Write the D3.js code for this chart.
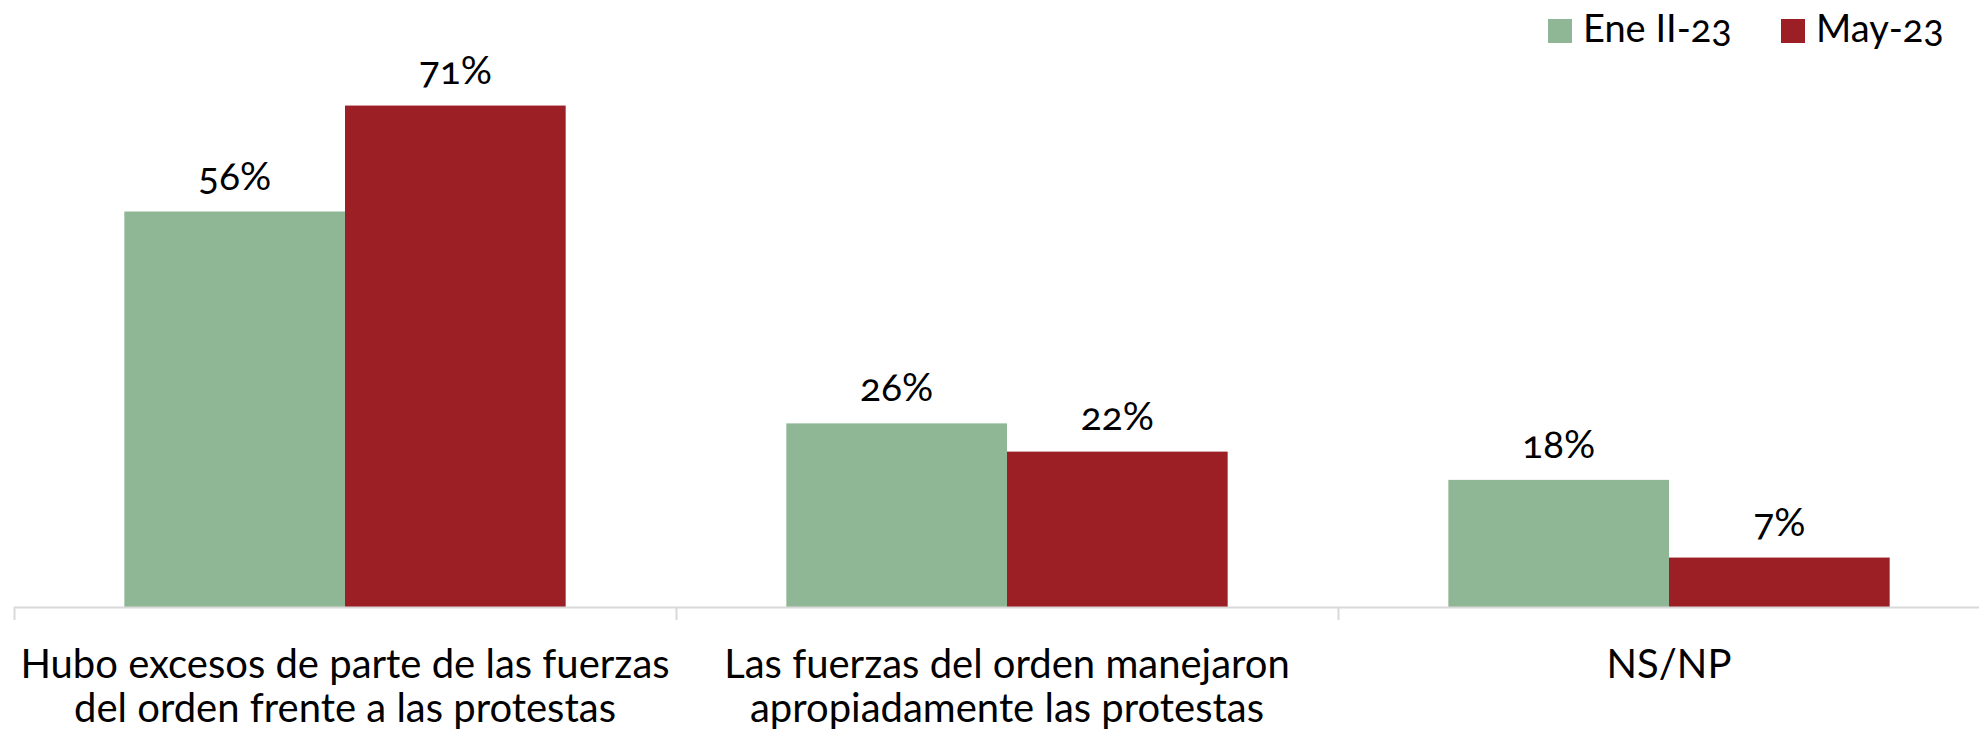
<!DOCTYPE html>
<html>
<head>
<meta charset="utf-8">
<script src="https://cdn.jsdelivr.net/npm/d3@7"></script>
<style>
  body { margin: 0; background: #fff; }
  text { font-family: Lato, "Open Sans", sans-serif; font-feature-settings: "onum"; fill: #000; }
</style>
</head>
<body>
<div id="chart"></div>
<script>
(function(){
  var width = 1979,
    height = 732;

  // data
  var categories = [
    ["Hubo excesos de parte de las fuerzas", "del orden frente a las protestas"],
    ["Las fuerzas del orden manejaron", "apropiadamente las protestas"],
    ["NS/NP"]
  ];
  var seriesNames = ["Ene II-23", "May-23"];
  var seriesColors = ["#8fb795", "#9b1f24"];
  var eneValues = [56, 26, 18];
  var mayValues = [71, 22, 7];

  var rows = categories.map(function(c, i){
    return { cat: i, label: c, values: [eneValues[i], mayValues[i]] };
  });

  var svg = d3.select("#chart")
    .append("svg")
    .attr("width", width)
    .attr("height", height);

  var baseY = 607;

  // outer band per category, axis runs past the right edge
  var x0 = d3.scaleBand()
    .domain(rows.map(function(d){ return d.cat; }))
    .range([14, 2000])
    .padding(0);

  var x1 = d3.scaleBand()
    .domain([0, 1])
    .range([0, x0.bandwidth()])
    .paddingOuter(0.5)
    .paddingInner(0);

  var y = d3.scaleLinear()
    .domain([0, 80])
    .range([baseY, 42]);

  var groups = svg.selectAll(".group")
    .data(rows)
    .enter().append("g")
    .attr("class", "group")
    .attr("transform", function(d){ return "translate(" + x0(d.cat) + ",0)"; });

  groups.selectAll("rect")
    .data(function(d){ return d.values.map(function(v, j){ return { s: j, v: v }; }); })
    .enter().append("rect")
    .attr("x", function(d){ return x1(d.s); })
    .attr("width", x1.bandwidth())
    .attr("y", function(d){ return y(d.v); })
    .attr("height", function(d){ return baseY - y(d.v); })
    .attr("fill", function(d){ return seriesColors[d.s]; });

  // value labels
  groups.selectAll(".val")
    .data(function(d){ return d.values.map(function(v, j){ return { s: j, v: v }; }); })
    .enter().append("text")
    .attr("class", "val")
    .attr("x", function(d){ return x1(d.s) + x1.bandwidth() / 2; })
    .attr("y", function(d){ return y(d.v) - 22; })
    .attr("text-anchor", "middle")
    .style("font-size", "39px")
    .text(function(d){ return d.v + "%"; });

  // category axis
  var axis = svg.append("g");
  axis.append("line")
    .attr("x1", 14).attr("x2", width)
    .attr("y1", baseY + 0.5).attr("y2", baseY + 0.5)
    .attr("stroke", "#d9d9d9").attr("stroke-width", 2);

  var tickPos = rows.map(function(d){ return x0(d.cat); });
  axis.selectAll(".tick")
    .data(tickPos)
    .enter().append("line")
    .attr("x1", function(d){ return d + 0.5; })
    .attr("x2", function(d){ return d + 0.5; })
    .attr("y1", baseY)
    .attr("y2", baseY + 13)
    .attr("stroke", "#d9d9d9").attr("stroke-width", 2);

  var labels = svg.selectAll(".cat")
    .data(rows)
    .enter().append("text")
    .attr("class", "cat")
    .attr("text-anchor", "middle")
    .style("font-size", "40px");

  labels.selectAll("tspan")
    .data(function(d){ return d.label.map(function(l){ return { l: l, cx: x0(d.cat) + x0.bandwidth() / 2 }; }); })
    .enter().append("tspan")
    .attr("x", function(d){ return d.cx; })
    .attr("y", function(d, i){ return 678 + i * 44; })
    .text(function(d){ return d.l; });

  // legend
  var legendX = [1548, 1781];
  var legend = svg.selectAll(".legend")
    .data(seriesNames)
    .enter().append("g")
    .attr("class", "legend")
    .attr("transform", function(d, i){ return "translate(" + legendX[i] + ",19)"; });

  legend.append("rect")
    .attr("width", 24).attr("height", 24)
    .attr("fill", function(d, i){ return seriesColors[i]; });

  legend.append("text")
    .attr("x", 35)
    .attr("y", 23)
    .style("font-size", "38px")
    .text(function(d){ return d; });
})();
</script>
</body>
</html>
